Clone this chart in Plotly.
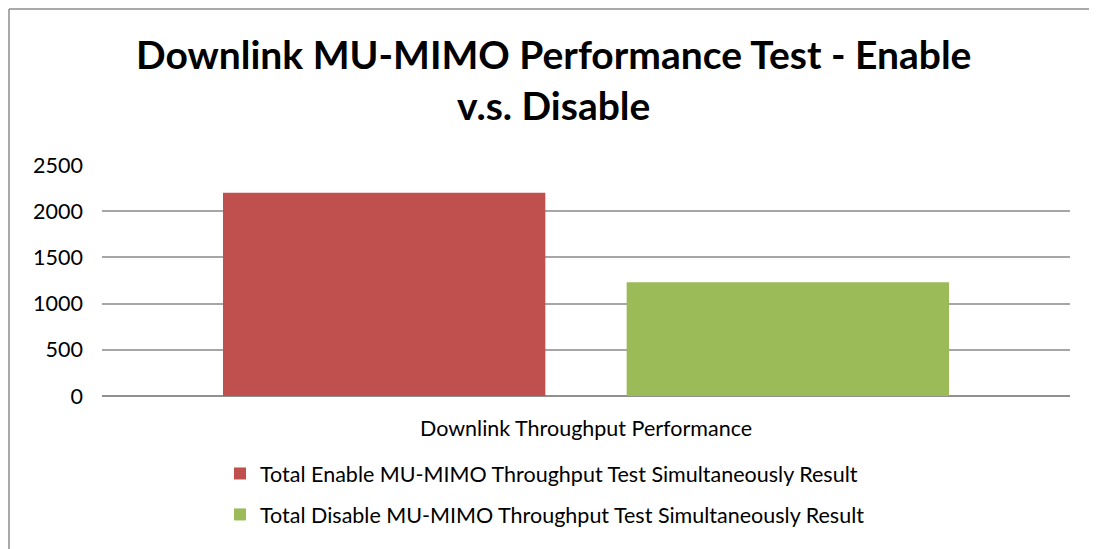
import plotly.graph_objects as go

categories = ["Downlink Throughput Performance"]
series_names = [
    "Total Enable MU-MIMO Throughput Test Simultaneously Result",
    "Total Disable MU-MIMO Throughput Test Simultaneously Result",
]
enable_values = [2200]
disable_values = [1230]
y_ticks = [0, 500, 1000, 1500, 2000, 2500]

FONT = "Lato, Open Sans, sans-serif"
TXT = 21.5

fig = go.Figure()
fig.add_trace(go.Bar(
    x=categories, y=enable_values, name=series_names[0],
    marker=dict(color="#c0504d", line=dict(width=0)),
    width=0.333, offset=-0.375, legendgroup="a",
))
fig.add_trace(go.Bar(
    x=categories, y=disable_values, name=series_names[1],
    marker=dict(color="#9bbb59", line=dict(width=0)),
    width=0.333, offset=0.042, legendgroup="b",
))

OFF = 8  # page body margin offset
W, H = 1089, 541
# desired plot area in page pixels
PX0, PX1, PY0, PY1 = 102, 1070, 165, 396
L = PX0 - OFF
T = PY0 - OFF
R = W - (PX1 - OFF)
B = H - (PY1 - OFF)
pw, ph = PX1 - PX0, PY1 - PY0

def px_x(p):
    return (p - PX0) / pw

def px_y(p):
    return (PY1 - p) / ph

fig.update_layout(
    width=W, height=H,
    margin=dict(l=L, r=R, t=T, b=B, autoexpand=False),
    paper_bgcolor="white", plot_bgcolor="white",
    font=dict(family=FONT, size=TXT, color="#000000"),
    barmode="group",
    showlegend=True,
    legend=dict(
        orientation="v",
        x=px_x(220), xanchor="left",
        y=px_y(453), yanchor="top",
        font=dict(family=FONT, size=TXT, color="#000000"),
        tracegroupgap=10,
        bgcolor="rgba(0,0,0,0)",
        itemwidth=30,
    ),
    xaxis=dict(
        type="category",
        range=[-0.5, 0.5],
        showgrid=False,
        showline=False,
        ticks="",
        ticklabelstandoff=17,
        tickfont=dict(family=FONT, size=TXT, color="#000000"),
    ),
    yaxis=dict(
        range=[0, 2500],
        tickvals=y_ticks,
        ticktext=[str(v) for v in y_ticks],
        showgrid=True, gridcolor="#a6a6a6", gridwidth=1.5,
        zeroline=True, zerolinecolor="#909090", zerolinewidth=2,
        showline=False, ticks="",
        ticklabelstandoff=18,
        tickfont=dict(family=FONT, size=TXT, color="#000000"),
    ),
    annotations=[
        dict(
            text="<b>Downlink MU-MIMO Performance Test - Enable<br>v.s. Disable</b>",
            xref="paper", yref="paper",
            x=px_x(553), y=px_y(80),
            xanchor="center", yanchor="middle",
            showarrow=False,
            font=dict(family=FONT, size=39, color="#000000"),
        )
    ],
    shapes=[
        dict(type="line", xref="paper", yref="paper",
             x0=px_x(9), x1=px_x(9), y0=px_y(9), y1=px_y(570),
             line=dict(color="#8c8c8c", width=1.5)),
        dict(type="line", xref="paper", yref="paper",
             x0=px_x(9), x1=px_x(1120), y0=px_y(9), y1=px_y(9),
             line=dict(color="#8c8c8c", width=1.5)),
    ],
)

fig.write_html("out.html")
